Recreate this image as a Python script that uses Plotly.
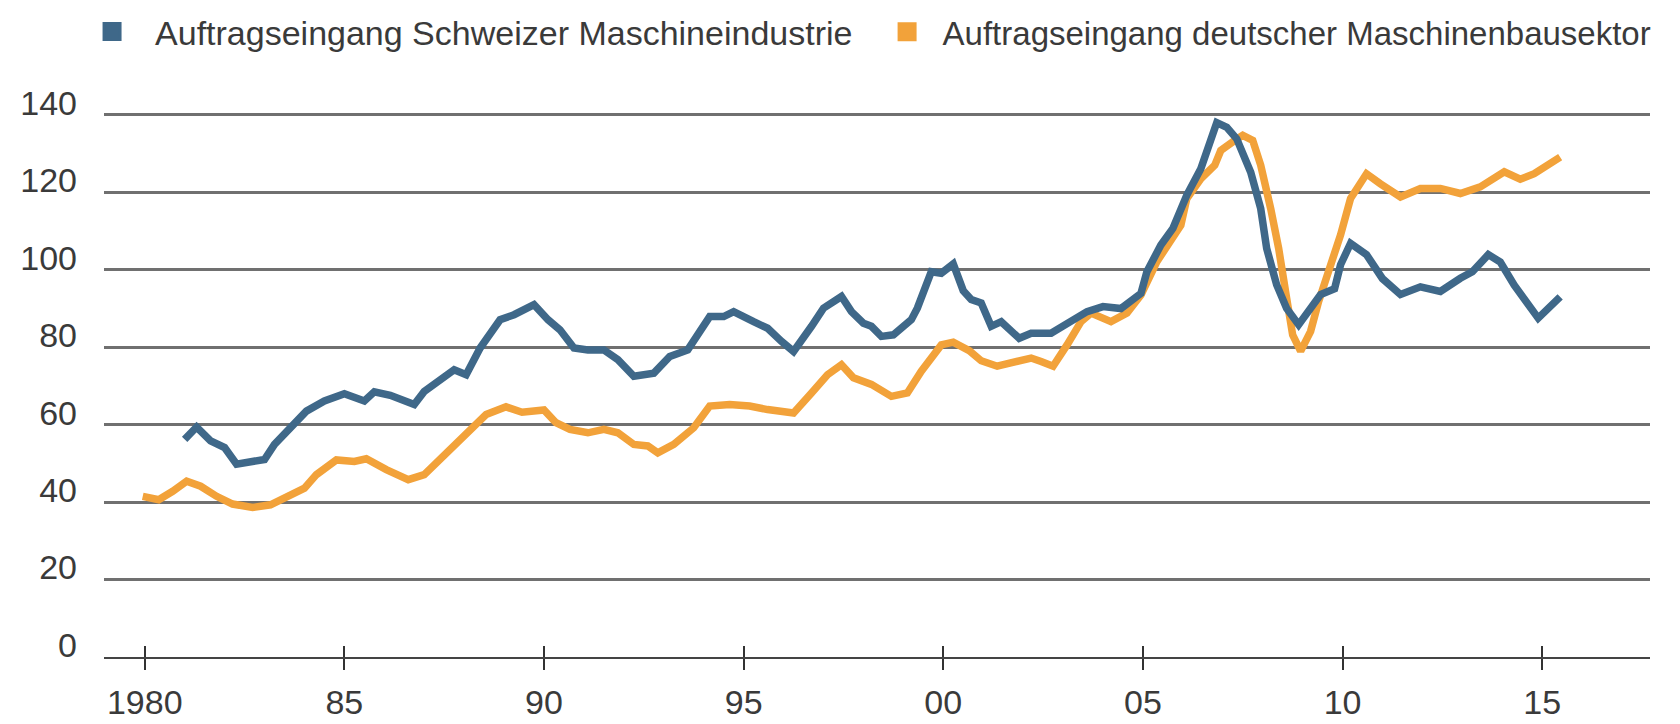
import plotly.graph_objects as go

# Auftragseingang Schweizer Maschineindustrie (Index)
ch_x = [1981.0, 1981.3, 1981.65, 1982.0, 1982.3, 1982.65, 1983.0, 1983.25, 1983.65, 1984.05,
        1984.5, 1985.0, 1985.5, 1985.75, 1986.15, 1986.75, 1987.0, 1987.3, 1987.75, 1988.05,
        1988.4, 1988.9, 1989.25, 1989.75, 1990.1, 1990.4, 1990.75, 1991.1, 1991.5, 1991.85,
        1992.25, 1992.75, 1993.15, 1993.6, 1993.85, 1994.15, 1994.5, 1994.75, 1995.25, 1995.6,
        1995.95, 1996.25, 1996.7, 1997.0, 1997.45, 1997.7, 1998.0, 1998.2, 1998.45, 1998.75,
        1999.2, 1999.35, 1999.7, 1999.95, 2000.25, 2000.5, 2000.7, 2000.95, 2001.2, 2001.45,
        2001.9, 2002.2, 2002.7, 2003.2, 2003.6, 2004.0, 2004.45, 2004.95, 2005.1, 2005.45,
        2005.75, 2006.1, 2006.45, 2006.85, 2007.1, 2007.35, 2007.7, 2007.95, 2008.1, 2008.35,
        2008.6, 2008.9, 2009.15, 2009.45, 2009.8, 2009.95, 2010.2, 2010.6, 2011.0, 2011.45,
        2011.95, 2012.45, 2012.95, 2013.25, 2013.65, 2013.95, 2014.3, 2014.9, 2015.45]
ch_y = [56.2, 59.4, 55.8, 54.1, 49.8, 50.2, 51.0, 54.9, 59.2, 63.5,
        66.1, 68.0, 66.1, 68.5, 67.6, 65.2, 68.6, 70.8, 74.2, 72.9,
        79.8, 87.1, 88.4, 91.0, 87.1, 84.5, 79.8, 79.3, 79.3, 76.8,
        72.5, 73.3, 77.6, 79.3, 83.2, 87.9, 87.9, 89.2, 86.6, 84.9,
        81.5, 78.9, 85.4, 90.1, 93.1, 89.2, 86.2, 85.4, 82.8, 83.2,
        87.1, 90.1, 99.5, 99.1, 101.5, 94.6, 92.3, 91.4, 85.4, 86.6,
        82.3, 83.6, 83.6, 86.6, 89.2, 90.5, 90.0, 93.9, 99.5, 106.4,
        110.7, 119.3, 126.1, 138.0, 136.8, 133.8, 125.2, 115.8, 105.5, 96.1,
        90.0, 85.8, 89.2, 93.6, 95.1, 101.3, 106.8, 103.9, 97.7, 93.6,
        95.6, 94.4, 97.8, 99.5, 103.9, 102.0, 96.0, 87.5, 93.0]

# Auftragseingang deutscher Maschinenbausektor (Index)
de_x = [1979.95, 1980.35, 1980.7, 1981.05, 1981.4, 1981.8, 1982.2, 1982.7, 1983.15, 1983.55,
        1984.0, 1984.3, 1984.8, 1985.25, 1985.55, 1986.05, 1986.6, 1987.0, 1987.5, 1988.05,
        1988.55, 1989.05, 1989.45, 1990.0, 1990.3, 1990.65, 1991.1, 1991.5, 1991.85, 1992.25,
        1992.6, 1992.85, 1993.25, 1993.75, 1994.15, 1994.65, 1995.15, 1995.6, 1996.25, 1996.7,
        1997.1, 1997.45, 1997.75, 1998.2, 1998.7, 1999.1, 1999.45, 1999.95, 2000.25, 2000.65,
        2000.95, 2001.35, 2001.75, 2002.2, 2002.45, 2002.75, 2003.1, 2003.45, 2003.7, 2004.2,
        2004.6, 2004.95, 2005.35, 2005.8, 2005.95, 2006.1, 2006.45, 2006.8, 2006.95, 2007.3,
        2007.5, 2007.75, 2007.95, 2008.2, 2008.4, 2008.6, 2008.75, 2008.95, 2009.2, 2009.4,
        2009.7, 2009.95, 2010.2, 2010.6, 2010.95, 2011.45, 2011.95, 2012.45, 2012.95, 2013.45,
        2014.05, 2014.45, 2014.8, 2015.45]
de_y = [41.5, 40.6, 42.8, 45.4, 44.1, 41.5, 39.5, 38.6, 39.3, 41.1,
        43.6, 47.1, 50.9, 50.5, 51.2, 48.4, 45.8, 47.1, 52.3, 57.5,
        62.6, 64.6, 63.2, 63.8, 60.5, 58.8, 57.9, 58.8, 57.9, 54.9,
        54.5, 52.7, 54.9, 59.2, 64.8, 65.2, 64.8, 63.9, 63.0, 68.2,
        72.9, 75.5, 72.1, 70.4, 67.3, 68.2, 73.8, 80.6, 81.3, 79.1,
        76.5, 75.1, 75.9, 77.2, 76.3, 75.1, 80.6, 86.6, 88.8, 86.6,
        88.8, 93.5, 102.1, 109.0, 111.5, 118.4, 123.5, 127.0, 130.8, 133.4,
        134.7, 133.4, 127.0, 115.8, 105.5, 92.6, 83.2, 79.0, 84.1, 91.8,
        100.5, 109.0, 118.4, 124.8, 122.2, 118.8, 121.0, 121.0, 119.7, 121.4,
        125.3, 123.4, 124.8, 129.1]

x_ticks = [1980, 1985, 1990, 1995, 2000, 2005, 2010, 2015]
x_labels = ["1980", "85", "90", "95", "00", "05", "10", "15"]
y_ticks = [0, 20, 40, 60, 80, 100, 120, 140]

name_ch = "Auftragseingang Schweizer Maschineindustrie"
name_de = "Auftragseingang deutscher Maschinenbausektor"
blue = "#3f6889"
orange = "#f2a23a"
font_fam = "Liberation Sans, Arial, sans-serif"
txt = "#3a3a3a"
fsize = 34

fig = go.Figure()

fig.add_trace(go.Scatter(x=de_x, y=de_y, mode="lines", line=dict(color=orange, width=7.5),
                         showlegend=False, hoverinfo="skip"))
fig.add_trace(go.Scatter(x=ch_x, y=ch_y, mode="lines", line=dict(color=blue, width=7.5),
                         showlegend=False, hoverinfo="skip"))

# legend entries (square markers)
fig.add_trace(go.Scatter(x=[None], y=[None], mode="markers", name=name_ch, legend="legend",
                         marker=dict(symbol="square", size=16, color=blue,
                                     line=dict(color=blue, width=3))))
fig.add_trace(go.Scatter(x=[None], y=[None], mode="markers", name=name_de, legend="legend2",
                         marker=dict(symbol="square", size=16, color=orange,
                                     line=dict(color=orange, width=3))))

# second x axis only for the upward half of the crossing ticks
fig.add_trace(go.Scatter(x=[1980], y=[None], xaxis="x2", showlegend=False, hoverinfo="skip"))

x_range = [1978.98, 2017.7]

fig.update_layout(
    width=1680,
    height=724,
    margin=dict(l=104, r=30, t=111, b=67),
    paper_bgcolor="white",
    plot_bgcolor="white",
    font=dict(family=font_fam, size=fsize, color=txt),
    xaxis=dict(range=x_range, tickvals=x_ticks, ticktext=x_labels, ticks="outside",
               ticklen=11, tickwidth=1.5, tickcolor="#333", showgrid=False, zeroline=False,
               showline=True, linecolor="#444", linewidth=2, ticklabelstandoff=3,
               automargin=False, tickfont=dict(size=fsize, color=txt)),
    xaxis2=dict(range=x_range, tickvals=x_ticks, ticks="inside", ticklen=11, tickwidth=1.5,
                tickcolor="#333", showticklabels=False, showgrid=False, zeroline=False,
                overlaying="x", anchor="y"),
    yaxis=dict(range=[0, 141], tickvals=y_ticks, showgrid=True, gridcolor="#707070",
               gridwidth=3, zeroline=False, ticks="", ticklabelstandoff=26,
               ticklabelshift=-12, automargin=False, tickfont=dict(size=fsize, color=txt)),
    legend=dict(orientation="h", xref="container", yref="container", x=0.0411, y=0.956,
                xanchor="left", yanchor="middle", itemwidth=76, bgcolor="rgba(0,0,0,0)",
                font=dict(size=fsize, color=txt)),
    legend2=dict(orientation="h", xref="container", yref="container", x=0.5188, y=0.956,
                 xanchor="left", yanchor="middle", itemwidth=61, bgcolor="rgba(0,0,0,0)",
                 font=dict(size=33, color=txt)),
)

fig.write_html("out.html", config={"displayModeBar": False},
               post_script="document.body.style.margin = '0';")
